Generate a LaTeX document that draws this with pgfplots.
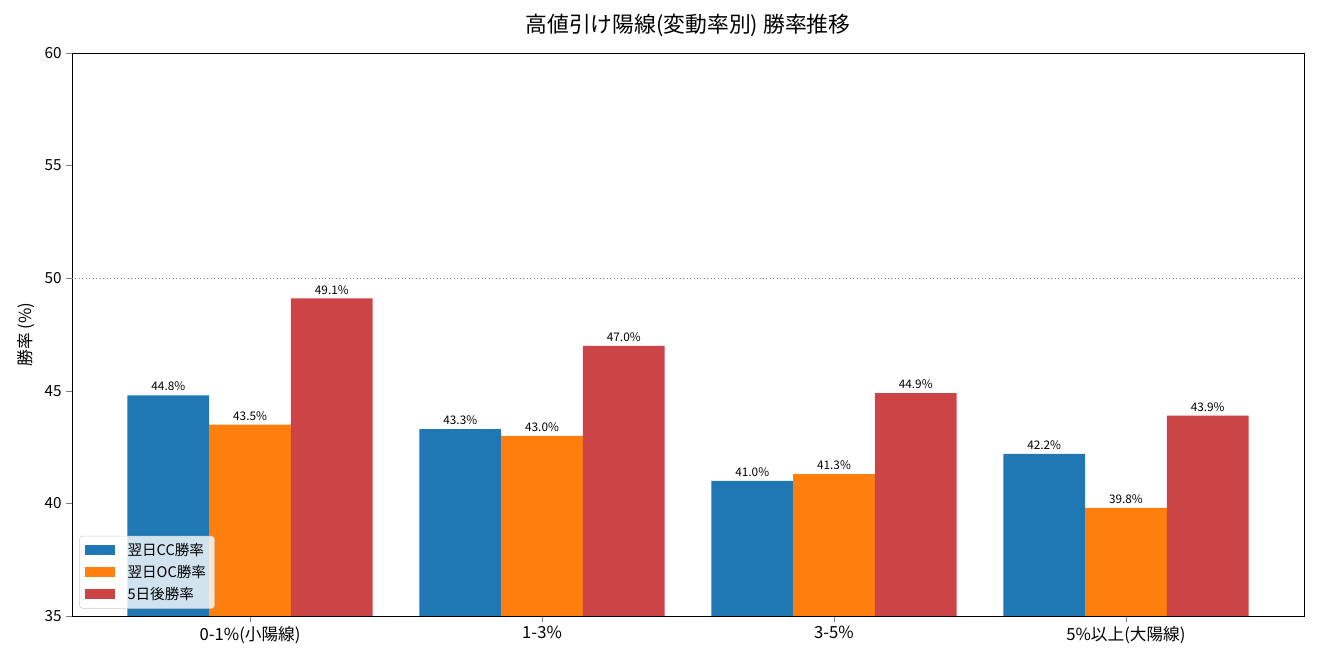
\documentclass[border=0pt]{standalone}
\usepackage{fontspec}
\setmainfont{Noto Sans CJK JP}
\usepackage{pgfplots}
\pgfplotsset{compat=1.18}
\definecolor{cc}{HTML}{1F77B4}
\definecolor{oc}{HTML}{FF7F0E}
\definecolor{fd}{HTML}{CC4446}
\begin{document}
\begin{tikzpicture}
\useasboundingbox (0,0) rectangle (950.4pt,475.2pt);
\begin{axis}[
  at={(51.84pt,31.68pt)}, anchor=south west,
  scale only axis, width=887.04pt, height=405.36pt,
  xmin=-0.61, xmax=3.61, ymin=35, ymax=60,
  ytick={35,40,45,50,55,60},
  xtick={0,1,2,3},
  xticklabels={0-1\%(小陽線),1-3\%,3-5\%,5\%以上(大陽線)},
  x tick label style={font=\fontsize{12}{14}\selectfont},
  y tick label style={font=\fontsize{11}{13}\selectfont},
  /pgf/number format/assume math mode=true,
  tick align=outside, tick pos=left,
  major tick length=4pt,
  axis line style={line width=0.6pt},
  ylabel={勝率 (\%)},
  ylabel style={font=\fontsize{12}{14}\selectfont},
  title={高値引け陽線(変動率別) 勝率推移},
  title style={font=\fontsize{15.7}{18}\selectfont, yshift=2pt},
  ybar, bar width=0.28,
  nodes near coords={\pgfmathprintnumber[fixed,fixed zerofill,precision=1]{\pgfplotspointmeta}\%},
  nodes near coords style={font=\fontsize{8.5}{10}\selectfont, black, yshift=-0.5pt},
  legend style={font=\fontsize{10.5}{12}\selectfont, fill=white, fill opacity=0.8, text opacity=1, draw=black!20, rounded corners=2pt, inner xsep=4pt, inner ysep=3pt, row sep=1.5pt, at={(0.006,0.013)}, anchor=south west},
  legend cell align=left,
  legend image code/.code={\fill[#1, sharp corners, fill opacity=1] (0cm,-0.13cm) rectangle (0.75cm,0.13cm); \path (1.0cm,0);},
]
\addplot[fill=cc, draw=none, bar shift=-0.28] coordinates {(0,44.8) (1,43.3) (2,41.0) (3,42.2)};
\addlegendentry{翌日CC勝率}
\addplot[fill=oc, draw=none, bar shift=0] coordinates {(0,43.5) (1,43.0) (2,41.3) (3,39.8)};
\addlegendentry{翌日OC勝率}
\addplot[fill=fd, draw=none, bar shift=0.28] coordinates {(0,49.1) (1,47.0) (2,44.9) (3,43.9)};
\addlegendentry{5日後勝率}
\addplot[sharp plot, no markers, nodes near coords={}, gray, dotted, line width=0.5pt, forget plot] coordinates {(-0.61,50) (3.61,50)};
\end{axis}
\end{tikzpicture}
\end{document}
